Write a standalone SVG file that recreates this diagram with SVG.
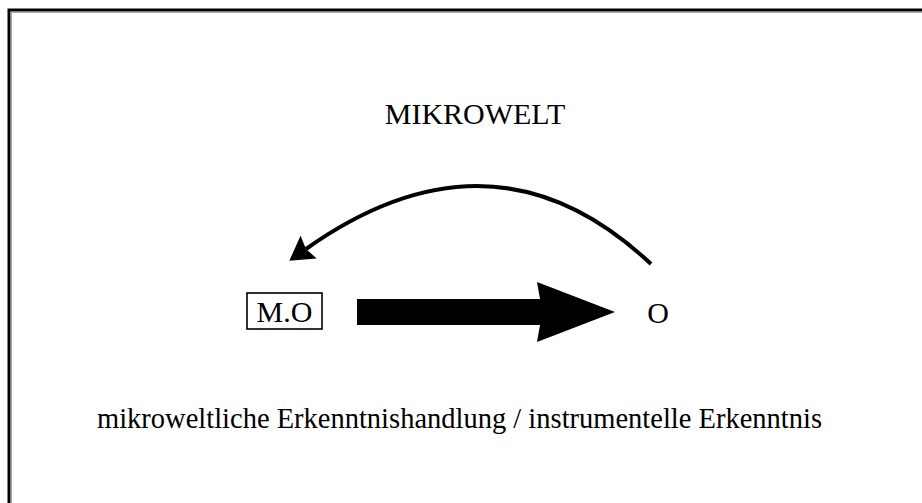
<svg xmlns="http://www.w3.org/2000/svg" width="922" height="503" viewBox="0 0 922 503">
  <style>
    .lbl { font-family: "Liberation Serif", "Times New Roman", serif; fill: #000; }
    .frame { fill: none; stroke: #000; stroke-width: 3; }
    .frame-in { fill: none; stroke: #a8a8a8; stroke-width: 1; }
    .box { fill: #fff; stroke: #000; stroke-width: 1.6; }
    .curve { fill: none; stroke: #000; stroke-width: 4; }
  </style>
  <defs>
    <marker id="head" markerUnits="userSpaceOnUse" markerWidth="24" markerHeight="28"
            viewBox="0 0 22 26" refX="3" refY="13" orient="auto">
      <path d="M0,0 L22,13 L0,26 L3,13 z" fill="#000"/>
    </marker>
  </defs>

  <rect width="922" height="503" fill="#fff"/>

  <!-- outer frame (open to the right and bottom) -->
  <path class="frame" d="M9,503 V10 H922"/>
  <path class="frame-in" d="M11.5,503 V12.5 H922"/>

  <g id="title">
    <text class="lbl" x="475" y="124" font-size="30" text-anchor="middle">MIKROWELT</text>
  </g>

  <g id="node-mo">
    <rect class="box" x="247" y="293" width="75" height="36"/>
    <text class="lbl" x="284.5" y="322" font-size="30" text-anchor="middle">M.O</text>
  </g>

  <g id="node-o">
    <text class="lbl" x="658" y="323" font-size="30" text-anchor="middle">O</text>
  </g>

  <g id="connectors">
    <!-- thick forward arrow M.O to O -->
    <polygon points="357,299 540,299 537,282 615,312 537,342 540,325 357,325" fill="#000"/>
    <!-- curved return arrow O to M.O -->
    <path class="curve" d="M651,264 Q494,116 306,249" marker-end="url(#head)"/>
  </g>

  <g id="caption">
    <text class="lbl" x="97" y="428" font-size="28.5">mikroweltliche Erkenntnishandlung / instrumentelle Erkenntnis</text>
  </g>
</svg>
